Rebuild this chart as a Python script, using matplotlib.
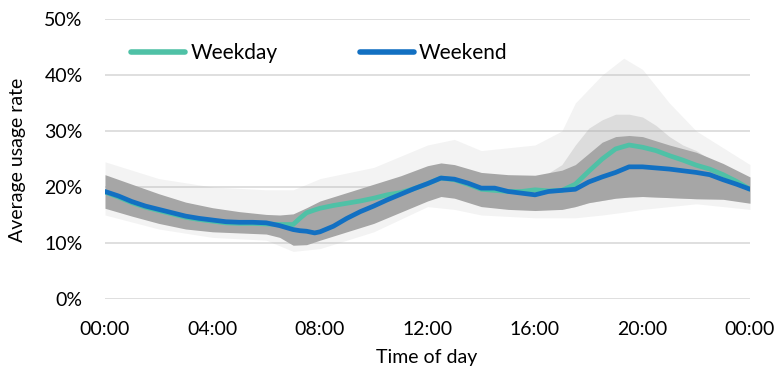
import matplotlib
matplotlib.use("Agg")
import matplotlib.pyplot as plt
from matplotlib.ticker import FuncFormatter

plt.rcParams['font.family'] = ['Lato', 'DejaVu Sans']

# ---- data (hours of day, usage rate in %) ----
line_hours = [0, 0.5, 1, 1.5, 2, 2.5, 3, 3.5, 4, 4.5, 5, 5.5, 6, 6.5, 7, 7.25, 7.5, 7.8,
              8, 8.5, 9, 9.5, 10, 10.5, 11, 11.5, 12, 12.5, 13, 13.5, 14, 14.5, 15, 15.5,
              16, 16.5, 17, 17.5, 18, 18.5, 19, 19.5, 20, 20.5, 21, 21.5, 22, 22.5, 23,
              23.5, 24]
weekend = [19.2, 18.4, 17.4, 16.6, 16.0, 15.4, 14.8, 14.4, 14.1, 13.8, 13.7, 13.7, 13.6,
           13.1, 12.4, 12.2, 12.1, 11.8, 12.0, 13.0, 14.4, 15.6, 16.6, 17.7, 18.7, 19.7,
           20.6, 21.6, 21.4, 20.7, 19.8, 19.8, 19.2, 18.9, 18.6, 19.2, 19.4, 19.6, 20.9,
           21.8, 22.6, 23.6, 23.6, 23.4, 23.2, 22.9, 22.6, 22.2, 21.3, 20.5, 19.6]
weekday = [19.1, 18.2, 17.2, 16.4, 15.8, 15.2, 14.6, 14.2, 13.9, 13.6, 13.5, 13.5, 13.4,
           13.3, 13.3, 14.4, 15.4, 15.9, 16.2, 16.7, 17.1, 17.5, 18.0, 18.6, 19.0, 19.7,
           20.6, 21.6, 21.3, 20.5, 19.6, 19.4, 19.2, 19.2, 19.5, 19.3, 19.4, 20.5, 22.8,
           25.0, 26.8, 27.5, 27.1, 26.5, 25.6, 24.8, 23.9, 23.2, 22.2, 21.0, 19.6]

band_hours = [0, 1, 2, 3, 4, 5, 6, 6.5, 7, 7.5, 8, 9, 10, 11, 12, 12.5, 13, 14, 15, 16,
              17, 17.5, 18, 18.5, 19, 19.5, 20, 21, 22, 23, 24]
dense_upper = [22.2, 20.5, 18.8, 17.3, 16.3, 15.6, 15.1, 15.0, 15.2, 16.3, 17.5, 19.0,
               20.5, 22.0, 23.8, 24.3, 24.0, 22.6, 22.2, 22.1, 23.0, 24.0, 26.0, 28.0,
               29.0, 29.2, 29.0, 27.5, 26.2, 24.2, 21.8]
dense_lower = [16.2, 14.8, 13.5, 12.5, 12.0, 11.8, 11.6, 11.0, 9.6, 9.7, 10.5, 12.0,
               13.5, 15.5, 17.5, 18.3, 18.0, 16.5, 16.0, 15.8, 16.0, 16.5, 17.2, 17.6,
               18.0, 18.2, 18.3, 18.1, 17.9, 17.8, 17.1]

mid_hours = [16.5, 17.0, 17.5, 18.0, 18.5, 19.0, 19.5, 20.0, 20.5, 21.0, 21.5, 22.0, 22.5]
mid_upper = [22.5, 24.0, 27.5, 30.5, 32.0, 33.0, 33.0, 32.5, 31.0, 29.0, 27.5, 26.5, 25.0]
mid_lower = [16.0, 16.0, 16.5, 17.2, 17.6, 18.0, 18.2, 18.3, 18.2, 18.1, 18.0, 17.9, 17.9]

haze_hours = [0, 2, 4, 6, 7, 8, 10, 12, 13, 14, 16, 17, 17.5, 18.5, 19.3, 20, 21, 22, 23, 24]
haze_upper = [24.5, 21.5, 20.0, 19.5, 19.5, 21.5, 23.5, 27.5, 28.5, 26.5, 27.5, 30.0,
              35.0, 40.0, 43.0, 41.0, 35.0, 30.0, 27.0, 24.0]
haze_lower = [15.0, 12.5, 11.0, 10.5, 8.5, 9.0, 12.0, 16.5, 16.0, 15.0, 14.5, 14.5,
              14.5, 15.0, 15.5, 16.0, 16.5, 17.0, 16.5, 16.0]

x_ticks = [0, 4, 8, 12, 16, 20, 24]
x_tick_labels = ["00:00", "04:00", "08:00", "12:00", "16:00", "20:00", "00:00"]
y_ticks = [0, 10, 20, 30, 40, 50]

W, H = 777, 371
fig = plt.figure(figsize=(W / 100, H / 100), dpi=100)
ax = fig.add_axes([105 / W, 1 - 299 / H, 645 / W, 280 / H])

ax.fill_between(haze_hours, haze_lower, haze_upper, color='#b0b0b0', alpha=0.15,
                linewidth=0, zorder=1)
ax.fill_between(mid_hours, mid_lower, mid_upper, color='#a8a8a8', alpha=0.3,
                linewidth=0, zorder=1.5)
ax.fill_between(band_hours, dense_lower, dense_upper, color='#a6a6a6', alpha=1.0,
                linewidth=0, zorder=2)

ax.plot(line_hours, weekday, color='#4fc1a6', lw=3.4, solid_capstyle='round',
        label='Weekday', zorder=3)
ax.plot(line_hours, weekend, color='#1270c2', lw=3.4, solid_capstyle='round',
        label='Weekend', zorder=4)

ax.set_xlim(0, 24)
ax.set_ylim(0, 50)
ax.set_xticks(x_ticks)
ax.set_xticklabels(x_tick_labels)
ax.set_yticks(y_ticks)
ax.yaxis.set_major_formatter(FuncFormatter(lambda v, p: f"{int(v)}%"))
ax.grid(axis='y', color='#d9d9d9', lw=1.2, zorder=0)
ax.set_axisbelow(True)
for s in ax.spines.values():
    s.set_visible(False)
ax.tick_params(axis='both', length=0, labelsize=14, colors='#000000')
ax.tick_params(axis='x', pad=16)
ax.tick_params(axis='y', pad=16)

fig.text(427 / W, 1 - 357 / H, "Time of day", ha='center', va='center', fontsize=14)
fig.text(18 / W, 1 - 160 / H, "Average usage rate", ha='center', va='center',
         rotation=90, fontsize=14)

leg = fig.legend(loc='center left', bbox_to_anchor=(131 / W, 1 - 53 / H), ncol=2,
                 frameon=False, fontsize=15, handlelength=2.6, handletextpad=0.25,
                 columnspacing=3.95, borderpad=0, borderaxespad=0)
for h in leg.get_lines():
    h.set_linewidth(4)

fig.savefig("out.png", dpi=100)
